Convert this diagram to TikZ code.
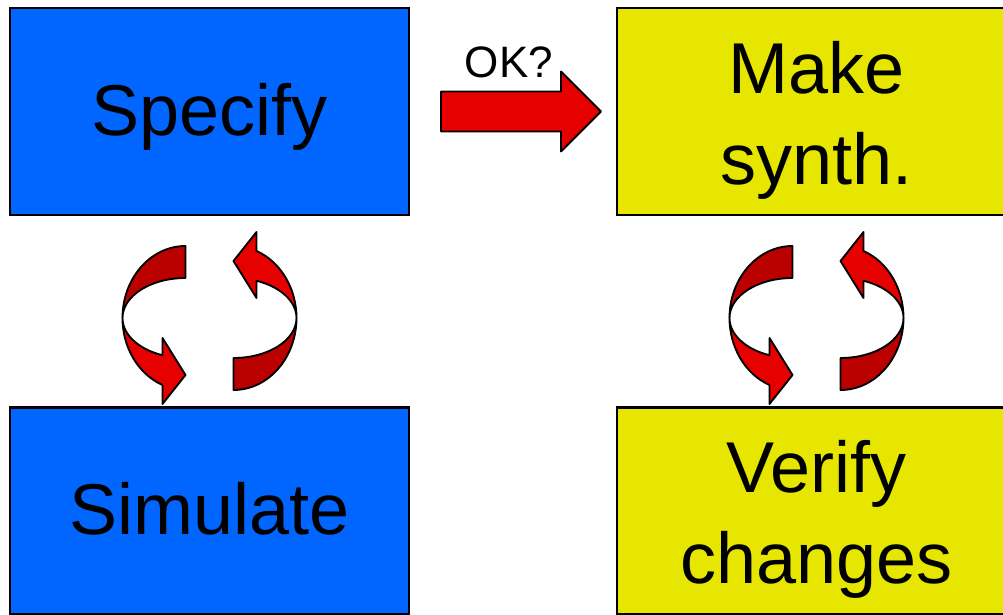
\documentclass[tikz,border=0pt]{standalone}
\usepackage{fontspec}
\setmainfont{Liberation Sans}
\usepackage{tikz}
\usetikzlibrary{positioning}
\definecolor{specblue}{HTML}{0066FF}
\definecolor{synthyel}{HTML}{E6E600}
\definecolor{loopred}{HTML}{E60000}
\definecolor{loopdark}{HTML}{BB0000}

\tikzset{
  ribbon/.style={draw=black, line width=1.4pt, line join=round},
  % one half of a round-trip ribbon: dark back part, light front part with head
  halfturn/.pic={
    \filldraw[ribbon, fill=loopdark] (-24,-72) arc[start angle=270, end angle=180, x radius=63, y radius=72]
      arc[start angle=180, end angle=270, x radius=63, y radius=40] -- cycle;
    \filldraw[ribbon, fill=loopred] (-87,0) arc[start angle=180, end angle=111.4, x radius=63, y radius=72]
      -- (-47,86) -- (-24,57) -- (-47,20) -- (-47,37.24)
      arc[start angle=111.4, end angle=180, x radius=63, y radius=40] -- cycle;
  },
  turnpair/.pic={
    \pic {halfturn};
    \pic[rotate=180] {halfturn};
  }
}

\begin{document}
\begin{tikzpicture}[x=0.75pt, y=-0.75pt,
  box/.style={draw=black, line width=1.6pt, minimum width=299.25pt, minimum height=155.25pt,
              outer sep=0pt, align=center, font=\fontsize{54}{68}\selectfont},
  oneline/.style={text height=48pt, text depth=12.7pt},
  twoline/.style={text height=120pt, text depth=11.2pt}]
  \useasboundingbox (0,0) rectangle (1003,614);
  \node[box, oneline, fill=specblue] (spec) at (209.5,111.5) {Specify};
  \node[box, twoline, fill=synthyel, right=156pt of spec] (make) {Make\\synth.};
  \node[box, oneline, fill=specblue, below=144.4pt of spec] (sim) {Simulate};
  \node[box, twoline, fill=synthyel, below=144.4pt of make] (verify) {Verify\\changes};
  % go ahead arrow
  \path ([xshift=24pt]spec.east) coordinate (okfrom);
  \filldraw[ribbon, fill=loopred] (okfrom) ++(0,-20) -- ++(120,0) -- ++(0,-20)
    -- ++(40,40) -- ++(-40,40) -- ++(0,-20) -- ++(-120,0) -- cycle;
  \node[anchor=base, font=\fontsize{33}{40}\selectfont] (ok) at (509,77) {OK?};
  % iteration loops
  \path (spec.south) ++(0,103) pic {turnpair};
  \path (make.south) ++(0,103) pic {turnpair};
\end{tikzpicture}
\end{document}
